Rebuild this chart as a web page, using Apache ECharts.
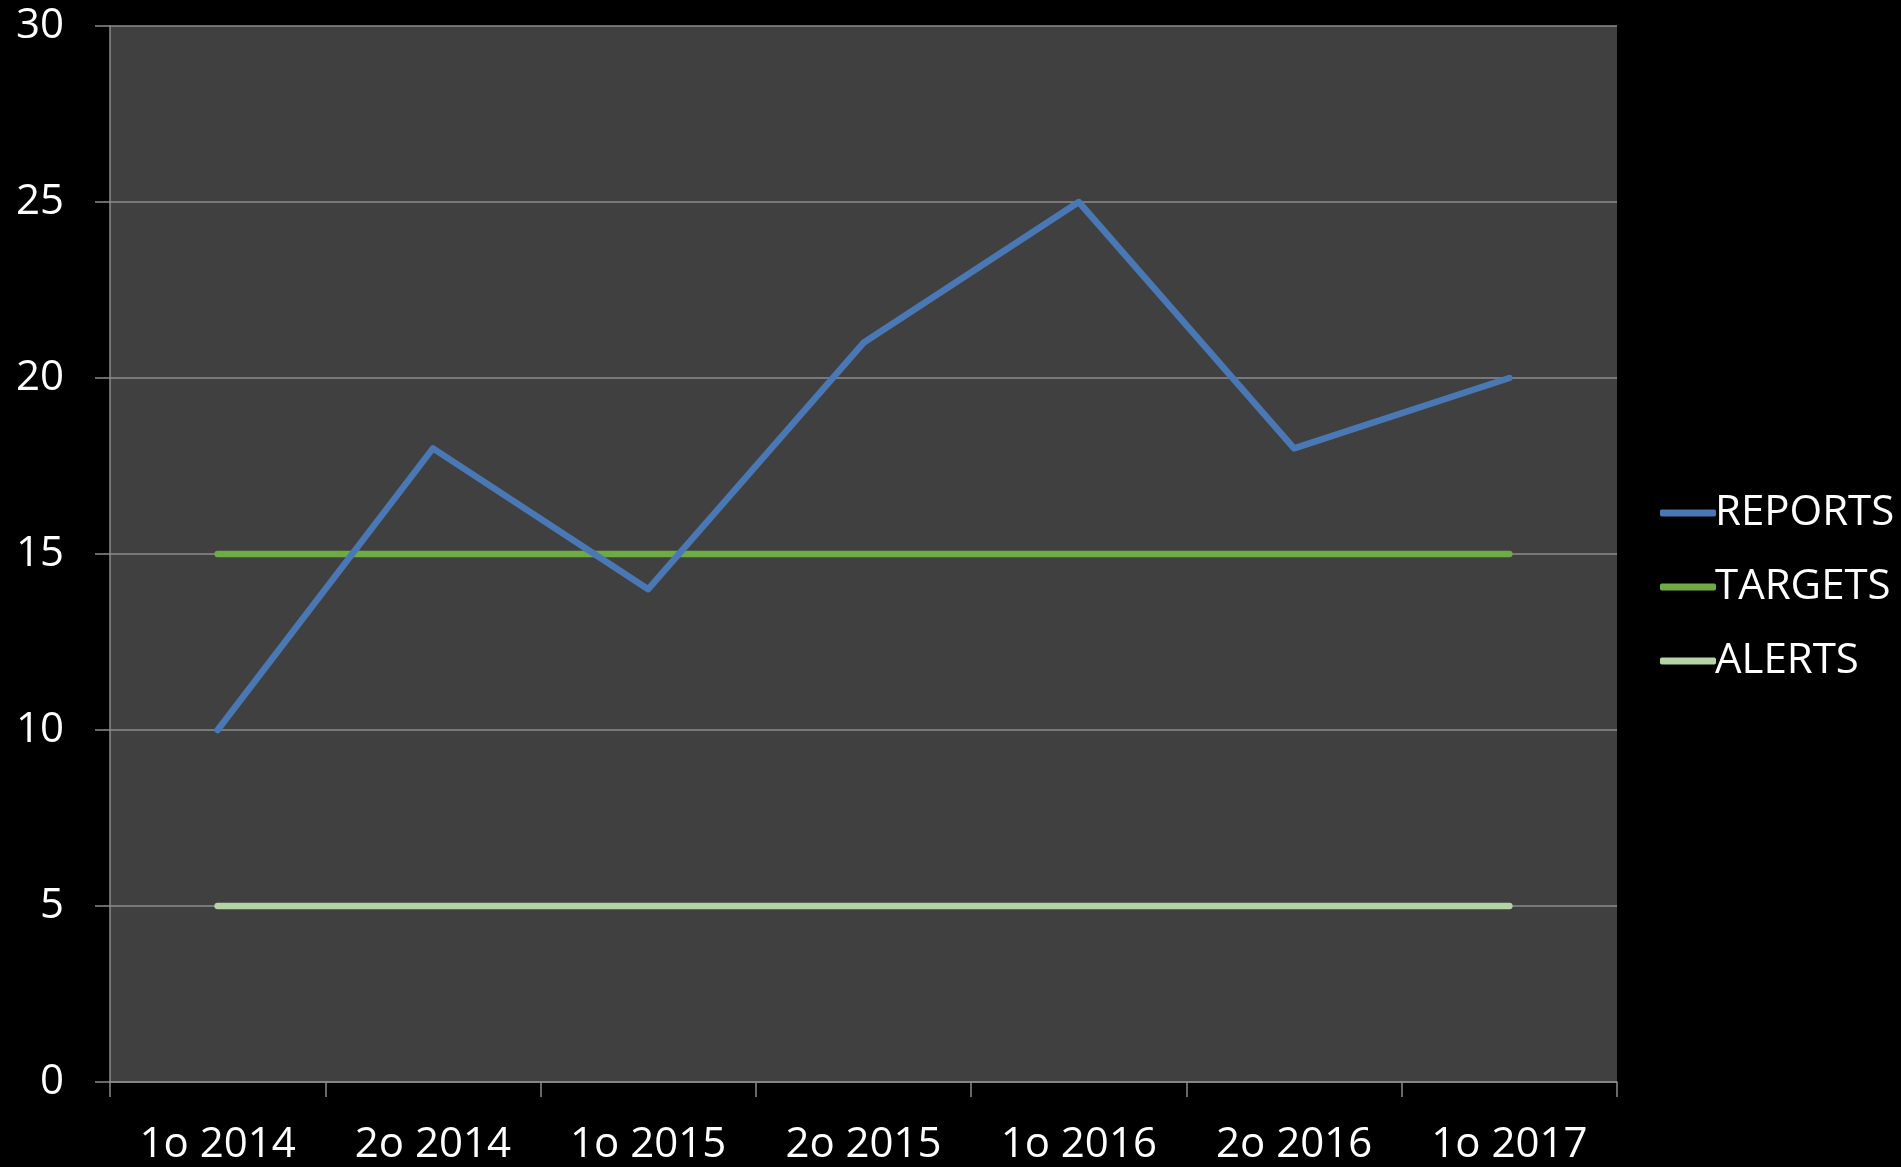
<!DOCTYPE html>
<html>
<head>
<meta charset="utf-8">
<script src="https://cdn.jsdelivr.net/npm/echarts@6/dist/echarts.min.js"></script>
<style>
  html, body { margin: 0; padding: 0; background: #000; }
  #chart { width: 1901px; height: 1167px; }
</style>
</head>
<body>
<div id="chart"></div>
<script>
const categories = ['1o 2014', '2o 2014', '1o 2015', '2o 2015', '1o 2016', '2o 2016', '1o 2017'];
const reports = [10, 18, 14, 21, 25, 18, 20];
const targets = [15, 15, 15, 15, 15, 15, 15];
const alerts = [5, 5, 5, 5, 5, 5, 5];
const seriesNames = ['REPORTS', 'TARGETS', 'ALERTS'];
const colors = ['#4a78b4', '#6eab45', '#b5d4a6'];

const chart = echarts.init(document.getElementById('chart'));
const font = '"Open Sans", "Noto Sans", sans-serif';
const lineSeries = (name, data, color) => ({
  name, type: 'line', data,
  symbol: 'none',
  lineStyle: { color, width: 6.5, cap: 'round', join: 'round' },
  itemStyle: { color },
  emphasis: { disabled: true },
  z: 3
});

chart.setOption({
  backgroundColor: '#000000',
  animation: false,
  textStyle: { fontFamily: font },
  grid: { left: 110, top: 26, right: 284, bottom: 85, show: true, backgroundColor: '#404040', borderWidth: 0 },
  legend: {
    orient: 'vertical',
    left: 1655, top: 487,
    itemWidth: 56, itemHeight: 7, itemGap: 32,
    icon: 'roundRect',
    textStyle: { color: '#ffffff', fontSize: 42, fontFamily: font, padding: [0, 0, 0, -6] },
    data: seriesNames
  },
  xAxis: {
    type: 'category',
    data: categories,
    boundaryGap: true,
    axisLine: { show: true, lineStyle: { color: '#8c8c8c', width: 1.5 } },
    axisTick: { show: true, length: 15, inside: false, alignWithLabel: false, lineStyle: { color: '#8c8c8c', width: 1.5 } },
    axisLabel: { color: '#ffffff', fontSize: 42, fontFamily: font, margin: 42, interval: 0 },
    splitLine: { show: false }
  },
  yAxis: {
    type: 'value',
    min: 0, max: 30, interval: 5,
    axisLine: { show: true, lineStyle: { color: '#8c8c8c', width: 1.5 } },
    axisTick: { show: true, length: 15, lineStyle: { color: '#8c8c8c', width: 1.5 } },
    axisLabel: { color: '#ffffff', fontSize: 42, fontFamily: font, margin: 46 },
    splitLine: { show: true, lineStyle: { color: '#8c8c8c', width: 1.5 } }
  },
  series: [
    lineSeries(seriesNames[2], alerts, colors[2]),
    lineSeries(seriesNames[1], targets, colors[1]),
    lineSeries(seriesNames[0], reports, colors[0])
  ]
});
</script>
</body>
</html>
